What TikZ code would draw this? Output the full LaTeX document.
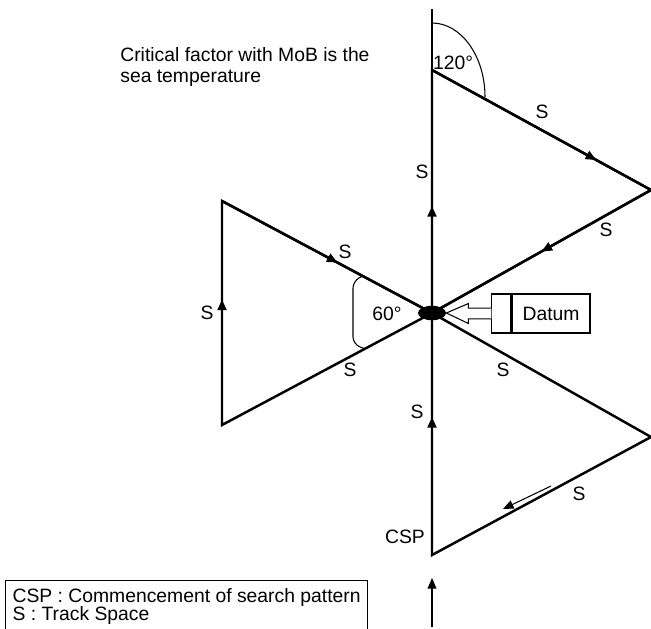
\documentclass[tikz,border=0pt]{standalone}
\usepackage{fontspec}
\setmainfont{Liberation Sans}
\usetikzlibrary{arrows.meta,positioning,shapes.geometric,decorations.markings,calc}

\begin{document}
\begin{tikzpicture}[
  x=0.02cm, y=-0.02cm,
  font=\fontsize{11}{12.3}\selectfont,
  track/.style={line width=1.4pt, line join=miter},
  guide/.style={line width=0.6pt},
  midarrow/.style={postaction={decorate}, decoration={markings, mark=at position #1 with {\arrow{Triangle[length=6pt,width=5pt]}}}},
  lbl/.style={inner sep=0pt},
  tip/.style={-{Triangle[length=6pt,width=5pt]}}
]
\useasboundingbox (0,0) rectangle (651,628);

% turning points of the pattern
\coordinate (csp) at (432,555);
\coordinate (datum) at (432,313);
\coordinate (top) at (432,70);
\coordinate (north) at (432,9);
\coordinate (ur) at (651,190);
\coordinate (lr) at (651,437);
\coordinate (ul) at (222,201);
\coordinate (ll) at (222,425);
\coordinate (start) at (432,627);
\coordinate (approach) at (432,578);
\coordinate (legA) at (551,486);
\coordinate (legB) at (503,509);

% track
\draw[track] (csp) -- (top) -- (ur) -- (datum) -- (ll) -- (ul) -- (datum) -- (lr) -- cycle;
\draw[track, midarrow=0.57] (csp) -- (datum);
\draw[track, midarrow=0.44] (datum) -- (top);
\draw[track, midarrow=0.75] (top) -- (ur);
\draw[track, midarrow=0.5] (ur) -- (datum);
\draw[track, midarrow=0.56] (ll) -- (ul);
\draw[track, midarrow=0.55] (ul) -- (datum);
\draw[guide] (top) -- (north);
\draw[guide, tip] (start) -- (approach);
\draw[guide, tip] (legA) -- (legB);

% angles
\draw[guide] (432,23) .. controls (461,23) and (485,56) .. (485,97);
\draw[guide, rounded corners=4pt] ($(datum)!0.33!(ul)$) -- (353,281) -- (353,344) -- ($(datum)!0.32!(ll)$);
\node[lbl] (a120) at (453,63) {120°};
\node[lbl] (a60) at (387,314) {60°};

% datum
\node[ellipse, fill=black, minimum width=0.56cm, minimum height=0.29cm, inner sep=0pt] (dot) at (datum) {};
\node[draw, guide, minimum width=1.56cm, minimum height=0.78cm] (datumbox) at (551,313.5) {Datum};
\node[draw, guide, minimum width=0.38cm, minimum height=0.78cm, left=0pt of datumbox] (tab) {};
\draw[guide, fill=white] ($(tab.west)+(0,-5.3)$) -- ++(-23,0) -- ++(0,-4.7) -- (dot.east)
  -- ($(tab.west)+(-23,10)$) -- ++(0,-4.7) -- ($(tab.west)+(0,5.3)$);

% track spaces
\node[lbl] (s1) at (422,172) {S};
\node[lbl] (s2) at (542,112) {S};
\node[lbl] (s3) at (606,230) {S};
\node[lbl] (s4) at (345,252) {S};
\node[lbl] (s5) at (207,313) {S};
\node[lbl] (s6) at (350,370) {S};
\node[lbl] (s7) at (503,370) {S};
\node[lbl] (s8) at (417,412) {S};
\node[lbl] (s9) at (579,494) {S};
\node[lbl] (csplbl) at (405,537) {CSP};

% notes
\node[lbl, anchor=north west, align=left] (note) at (120,47) {Critical factor with MoB is the\\sea temperature};
\node[draw, guide, anchor=north west, align=left, inner xsep=4pt, inner ysep=4.5pt,
  minimum width=7.24cm, font=\fontsize{11}{10.4}\selectfont] (legend) at (5,580)
  {CSP : Commencement of search pattern\\S : Track Space};
\end{tikzpicture}
\end{document}
